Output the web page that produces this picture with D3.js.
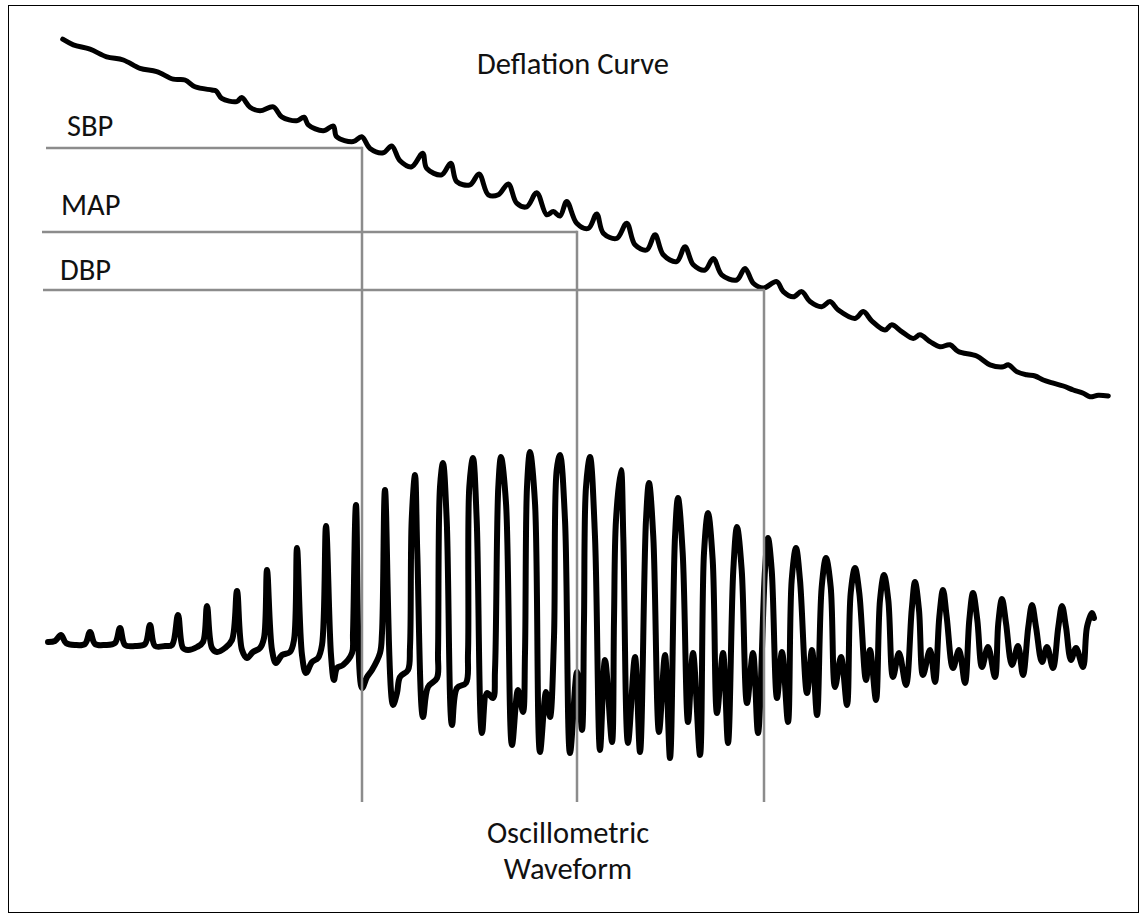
<!DOCTYPE html>
<html>
<head>
<meta charset="utf-8">
<script src="https://cdn.jsdelivr.net/npm/d3@7"></script>
<style>
  body { margin: 0; background: #fff; }
  text { font-family: Calibri, Carlito, Lato, sans-serif; font-size: 30.5px; fill: #111; }
</style>
</head>
<body>
<script>
// deflation curve: [time s, cuff pressure mmHg]
const deflation = [
  [0.735,140.2],[1.265,138.8],[2.1,137.7],[2.935,135.8],[3.765,135],[4.6,132.9],[5.435,132.1],
  [6.265,130.2],[6.85,130],[7.35,128.3],[8.185,127.5],[8.4,127.3],[8.685,125.4],[9.435,124.6],
  [9.685,125.6],[10.1,123.2],[10.6,122.3],[11.265,123.3],[11.685,120.8],[12.435,119.8],[12.8,120.7],
  [13.015,118.8],[13.765,117.3],[14.265,118.5],[14.435,115.8],[15.265,114.6],[15.685,115.8],
  [16.1,112.9],[16.765,111.8],[17.185,113.5],[17.6,109.8],[18.185,108.3],[18.735,111.7],[18.935,107.9],
  [19.685,106.3],[20.135,109.2],[20.435,104.6],[21.1,103.8],[21.55,106.5],[22.015,101.3],[22.515,101.3],
  [23.015,104],[23.435,99.2],[23.935,98.3],[24.435,101.8],[24.935,96.3],[25.265,97.1],[25.6,96],
  [25.935,99.6],[26.435,94.2],[27.015,92.9],[27.435,96.5],[27.765,91.7],[28.435,90.4],[28.935,94.2],
  [29.35,88.8],[29.935,87.5],[30.35,91.3],[30.765,86.3],[31.435,84.6],[31.85,88.3],[32.265,83.8],
  [32.85,82.5],[33.265,85.4],[33.685,81.3],[34.435,80],[34.85,82.9],[35.265,79.2],[35.765,78],
  [36.435,79.6],[36.765,77.1],[37.265,75.8],[37.685,77.1],[38.1,74.6],[38.685,73.3],[39.1,74.6],
  [39.515,72.5],[40.35,70.4],[40.765,72.1],[41.185,69.8],[41.85,67.5],[42.185,68.8],[42.685,67.1],
  [43.265,65.4],[43.6,66.3],[44.1,64.6],[44.6,63.3],[45.1,63.8],[45.515,62.1],[46.435,61],
  [47.1,58.8],[47.765,58.3],[48.015,58.8],[48.435,57.1],[48.935,56.3],[49.35,56],[49.765,55],
  [50.265,54.2],[50.765,53.5],[51.265,52.5],[51.765,51.7],[52.1,50.8],[52.515,51.2],[53.015,51]
]

// oscillometric waveform: [time s, oscillation amplitude]
const oscillation = [
  [0,0.3],[0.35,0.4],[0.65,1.0],[0.9,0.2],[1.35,0],[1.85,0.1],[2.1,1.3],[2.35,0.1],[2.85,0],
  [3.35,0.2],[3.6,1.7],[3.85,0],[4.35,-0.1],[4.85,0.1],[5.1,2.0],[5.35,-0.1],[5.85,-0.1],[6.2,0],
  [6.5,3.0],[6.75,-0.3],[7.0,-0.5],[7.45,-0.2],[7.75,0.3],[7.95,3.9],[8.2,-0.3],[8.45,-0.7],
  [8.85,-0.3],[9.2,0.5],[9.45,5.4],[9.7,-0.5],[9.95,-1.3],[10.25,-0.7],[10.6,-0.3],[10.8,0.7],
  [10.95,7.5],[11.2,-0.5],[11.4,-1.8],[11.7,-1.0],[12.1,-0.7],[12.3,0.5],[12.45,9.7],[12.7,-1.0],
  [12.9,-2.8],[13.2,-1.7],[13.5,-1.3],[13.7,0],[13.9,11.9],[14.15,-1.0],[14.3,-3.5],[14.45,-2.3],
  [14.75,-2.0],[15.2,-0.8],[15.25,1.2],[15.4,14.0],[15.7,-4.3],[15.95,-3.2],[16.2,-2.5],[16.6,-0.8],
  [16.7,1.2],[16.85,15.5],[17.25,-6.0],[17.45,-4.8],[17.6,-3.2],[18.0,-2.5],[18.1,-0.2],
  [18.185,12.5],[18.35,17.0],[18.465,9.2],
  [18.75,-7.2],[19.0,-4.2],[19.45,-3.3],[19.5,-0.8],
  [19.6,15.8],[19.75,18.2],[19.935,12.5],
  [20.2,-8.0],[20.45,-4.3],[20.9,-3.8],[21.0,-0.8],
  [21.065,15.8],[21.25,18.7],[21.435,12.5],
  [21.7,-8.8],[21.95,-4.8],[22.25,-5.3],[22.35,-2.5],
  [22.515,15.8],[22.65,18.8],[22.9,14.2],
  [23.2,-10.0],[23.5,-4.5],[23.75,-6.7],[23.85,-0.8],
  [23.95,15.8],[24.1,19.3],[24.35,14.2],
  [24.6,-10.7],[24.9,-4.7],[25.1,-7.2],[25.3,0.8],
  [25.435,17.5],[25.6,19.0],[25.85,12.5],
  [26.1,-10.8],[26.45,-2.7],[26.7,-8.5],[26.8,2.5],
  [26.9,15.8],[27.1,18.8],[27.35,10.8],
  [27.6,-10.5],[27.85,-1.5],[28.2,-9.7],[28.3,2.5],
  [28.4,12.5],[28.65,17.5],[28.765,10.8],
  [29.0,-9.8],[29.35,-1.2],[29.6,-10.7],
  [29.9,12.5],[30.05,16.2],[30.265,10.8],
  [30.55,-8.7],[30.85,-1.0],[31.1,-11.3],
  [31.35,10.8],[31.5,14.7],[31.735,9.2],
  [32.0,-7.7],[32.25,-0.8],[32.6,-11.0],
  [32.8,9.2],[33.0,13.2],[33.235,8.5],
  [33.45,-6.8],[33.75,-0.8],[34.0,-9.8],
  [34.265,7.5],[34.45,11.8],[34.685,7.5],
  [34.95,-5.8],[35.25,-0.8],[35.5,-8.8],
  [35.85,7.5],[36.0,10.7],[36.185,7.5],
  [36.45,-5.3],[36.7,-0.7],[37.0,-7.7],
  [37.185,6.5],[37.4,9.7],[37.6,6.5],
  [37.95,-4.8],[38.2,-0.5],[38.45,-7.0],
  [38.685,5.8],[38.9,8.7],[39.135,5.8],
  [39.35,-4.2],[39.65,-1.2],[39.95,-6.0],
  [40.135,5.2],[40.35,7.7],[40.565,5.2],
  [40.9,-3.5],[41.1,-0.5],[41.4,-5.5],
  [41.6,4.5],[41.8,7.0],[42.015,4.5],
  [42.25,-3.2],[42.55,-0.8],[42.9,-4.0],
  [43.185,3.5],[43.35,6.3],[43.55,3.5],
  [43.75,-3.0],[44.1,-0.5],[44.35,-3.7],
  [44.565,2.8],[44.75,5.5],[44.935,2.8],
  [45.25,-2.3],[45.55,-0.5],[45.85,-3.8],
  [46.065,2.5],[46.25,5.2],[46.465,2.5],
  [46.7,-2.2],[47.0,-0.2],[47.35,-3.2],
  [47.515,2.2],[47.7,4.6],[47.9,2.2],
  [48.2,-2.0],[48.5,-0.1],[48.75,-3.0],
  [49.015,1.8],[49.2,4.0],[49.4,1.8],
  [49.7,-1.7],[49.95,-0.2],[50.25,-2.3],
  [50.515,1.8],[50.7,3.9],[50.9,1.8],
  [51.15,-1.5],[51.4,-0.3],[51.75,-2.2],[51.95,1.8],[52.2,3.2],[52.3,2.7]
]

// SBP / MAP / DBP markers
const markerNames = ["SBP", "MAP", "DBP"]
const markerPressure = [113, 92, 77.5]
const markerTime = [15.7, 26.45, 35.8]
const markerLineStart = [-0.1, -0.3, -0.25]

let width = 1141, height = 915

let svg = d3.select('body')
    .append('svg')
    .attr('width', width)
    .attr('height', height)

let x = d3.scaleLinear().domain([0, 50]).range([48, 1048])
let yP = d3.scaleLinear().domain([50, 140]).range([400, 40])
let yA = d3.scaleLinear().domain([-10, 20]).range([745, 445])

// frame
svg.append('rect')
    .attr('x', 8.5)
    .attr('y', 5.5)
    .attr('width', 1130)
    .attr('height', 907)
    .style('fill', 'none')
    .style('stroke', 'black')
    .style('stroke-width', 1)

let curve = d3.curveCatmullRom.alpha(0.5)

//deflation curve
svg.append('path')
    .datum(deflation)
    .attr('d', d3.line().x(d => x(d[0])).y(d => yP(d[1])).curve(curve))
    .style('fill', 'none')
    .style('stroke', 'black')
    .style('stroke-width', 5)
    .style('stroke-linecap', 'round')
    .style('stroke-linejoin', 'round')

//oscillometric waveform
svg.append('path')
    .datum(oscillation)
    .attr('d', d3.line().x(d => x(d[0])).y(d => yA(d[1])).curve(curve))
    .style('fill', 'none')
    .style('stroke', 'black')
    .style('stroke-width', 6)
    .style('stroke-linecap', 'round')
    .style('stroke-linejoin', 'round')

//marker lines
let markers = markerNames.map((n, i) => ({name: n, p: markerPressure[i], t: markerTime[i], t0: markerLineStart[i]}))
let bottomA = -15.7

svg.selectAll('.hline')
    .data(markers)
    .enter().append('line')
    .attr('x1', d => x(d.t0))
    .attr('x2', d => x(d.t))
    .attr('y1', d => yP(d.p))
    .attr('y2', d => yP(d.p))
    .style('stroke', '#8c8c8c')
    .style('stroke-width', 2.5)

svg.selectAll('.vline')
    .data(markers)
    .enter().append('line')
    .attr('x1', d => x(d.t))
    .attr('x2', d => x(d.t))
    .attr('y1', d => yP(d.p) - 1.25)
    .attr('y2', yA(bottomA))
    .style('stroke', '#8c8c8c')
    .style('stroke-width', 2.5)

//labels
let labelDx = [21, 19, 17]
let labelDy = [-12, -17, -10]
svg.selectAll('.label')
    .data(markers)
    .enter().append('text')
    .attr('x', (d, i) => x(d.t0) + labelDx[i])
    .attr('y', (d, i) => yP(d.p) + labelDy[i])
    .text(d => d.name)

svg.append('text')
    .attr('x', 573)
    .attr('y', 74)
    .attr('text-anchor', 'middle')
    .text('Deflation Curve')

svg.append('text')
    .attr('x', 568)
    .attr('y', 843)
    .attr('text-anchor', 'middle')
    .text('Oscillometric')

svg.append('text')
    .attr('x', 568)
    .attr('y', 879)
    .attr('text-anchor', 'middle')
    .text('Waveform')
</script>
</body>
</html>
